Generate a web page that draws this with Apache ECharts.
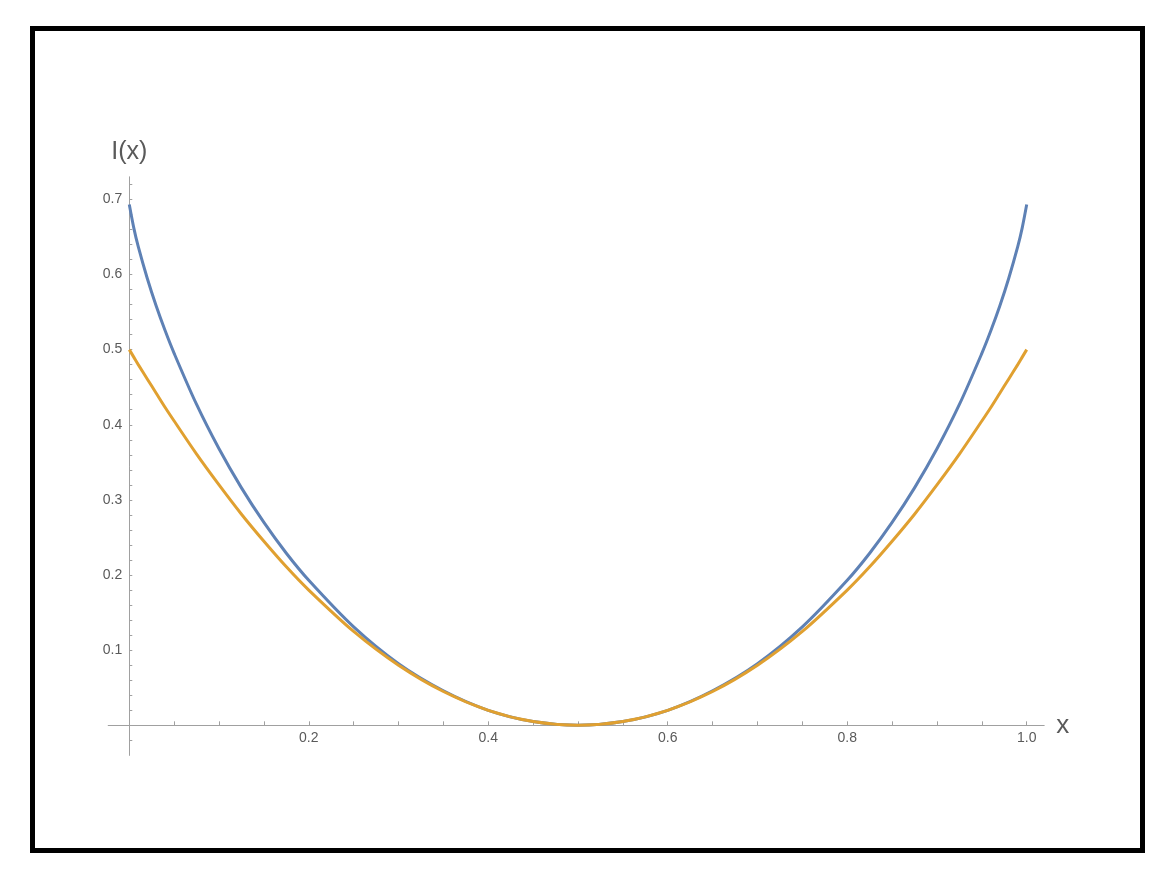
<!DOCTYPE html>
<html>
<head>
<meta charset="utf-8">
<script src="https://cdn.jsdelivr.net/npm/echarts@6/dist/echarts.min.js"></script>
<style>
  html, body { margin: 0; padding: 0; background: #fff; }
  #chart { position: absolute; left: 0; top: 0; width: 1166px; height: 880px; }
  .frame { position: absolute; left: 30px; top: 26px; width: 1115px; height: 827px;
           box-sizing: border-box; border: 5px solid #000; pointer-events: none; }
</style>
</head>
<body>
<div id="chart"></div>
<div class="frame"></div>
<script>
// values
const xValues = [0, 0.005, 0.01, 0.02, 0.03, 0.04, 0.05, 0.075, 0.1, 0.125, 0.15, 0.175, 0.2, 0.25, 0.3, 0.35, 0.4, 0.45, 0.5,
                 0.55, 0.6, 0.65, 0.7, 0.75, 0.8, 0.825, 0.85, 0.875, 0.9, 0.925, 0.95, 0.96, 0.97, 0.98, 0.99, 0.995, 1.0];
const blueValues = [0.693, 0.662, 0.637, 0.595, 0.558, 0.525, 0.495, 0.427, 0.368, 0.316, 0.270, 0.229, 0.193, 0.131, 0.082, 0.046, 0.020, 0.005, 0,
                    0.005, 0.020, 0.046, 0.082, 0.131, 0.193, 0.229, 0.270, 0.316, 0.368, 0.427, 0.495, 0.525, 0.558, 0.595, 0.637, 0.662, 0.693];
const orangeValues = [0.5, 0.490, 0.480, 0.461, 0.442, 0.423, 0.405, 0.361, 0.32, 0.281, 0.245, 0.211, 0.18, 0.125, 0.08, 0.045, 0.02, 0.005, 0,
                      0.005, 0.02, 0.045, 0.08, 0.125, 0.18, 0.211, 0.245, 0.281, 0.32, 0.361, 0.405, 0.423, 0.442, 0.461, 0.480, 0.490, 0.5];
const xLabelValues = [0.2, 0.4, 0.6, 0.8, 1.0];
const xTickValues = [0.05, 0.1, 0.15, 0.2, 0.25, 0.3, 0.35, 0.4, 0.45, 0.5, 0.55, 0.6, 0.65, 0.7, 0.75, 0.8, 0.85, 0.9, 0.95, 1.0];
const yLabelValues = [0.1, 0.2, 0.3, 0.4, 0.5, 0.6, 0.7];
const yTickValues = [-0.02, 0.02, 0.04, 0.06, 0.08, 0.1, 0.12, 0.14, 0.16, 0.18, 0.2, 0.22, 0.24, 0.26, 0.28, 0.3,
                     0.32, 0.34, 0.36, 0.38, 0.4, 0.42, 0.44, 0.46, 0.48, 0.5, 0.52, 0.54, 0.56, 0.58, 0.6,
                     0.62, 0.64, 0.66, 0.68, 0.7, 0.72];

const pair = (ys) => xValues.map((x, i) => [x, ys[i]]);

let myChart = echarts.init(document.getElementById('chart'));
const axisGray = '#a0a0a0';
const labelGray = '#5a5a5a';
myChart.setOption({
  animation: false,
  backgroundColor: '#fff',
  grid: { left: 108.2, top: 176.8, width: 936, height: 578.6, containLabel: false, outerBoundsMode: 'none' },
  xAxis: {
    type: 'value',
    min: -0.0235,
    max: 1.0195,
    name: 'x',
    nameLocation: 'end',
    nameGap: 12,
    nameTextStyle: { color: labelGray, fontSize: 26, fontFamily: 'Liberation Sans', verticalAlign: 'middle' },
    axisLine: { onZero: true, lineStyle: { color: axisGray, width: 1 } },
    axisTick: { show: true, inside: true, length: 4, customValues: xTickValues, lineStyle: { color: axisGray } },
    axisLabel: { customValues: xLabelValues, margin: -24, color: labelGray, fontSize: 14,
                 fontFamily: 'Liberation Sans', formatter: v => v.toFixed(1) },
    splitLine: { show: false }
  },
  yAxis: {
    type: 'value',
    min: -0.04,
    max: 0.73,
    name: 'I(x)',
    nameLocation: 'end',
    nameGap: 12,
    nameTextStyle: { color: labelGray, fontSize: 25, fontFamily: 'Liberation Sans', align: 'center' },
    axisLine: { onZero: true, lineStyle: { color: axisGray, width: 1 } },
    axisTick: { show: true, inside: true, length: 3, customValues: yTickValues, lineStyle: { color: axisGray } },
    axisLabel: { customValues: yLabelValues, margin: -14, color: labelGray, fontSize: 14,
                 fontFamily: 'Liberation Sans', formatter: v => v.toFixed(1) },
    splitLine: { show: false }
  },
  series: [
    {
      type: 'line',
      data: pair(blueValues),
      smooth: 0.3,
      showSymbol: false,
      lineStyle: { color: '#5e81b5', width: 3 },
      z: 2
    },
    {
      type: 'line',
      data: pair(orangeValues),
      smooth: 0.3,
      showSymbol: false,
      lineStyle: { color: '#e0a030', width: 3 },
      z: 3
    }
  ]
});
</script>
</body>
</html>
